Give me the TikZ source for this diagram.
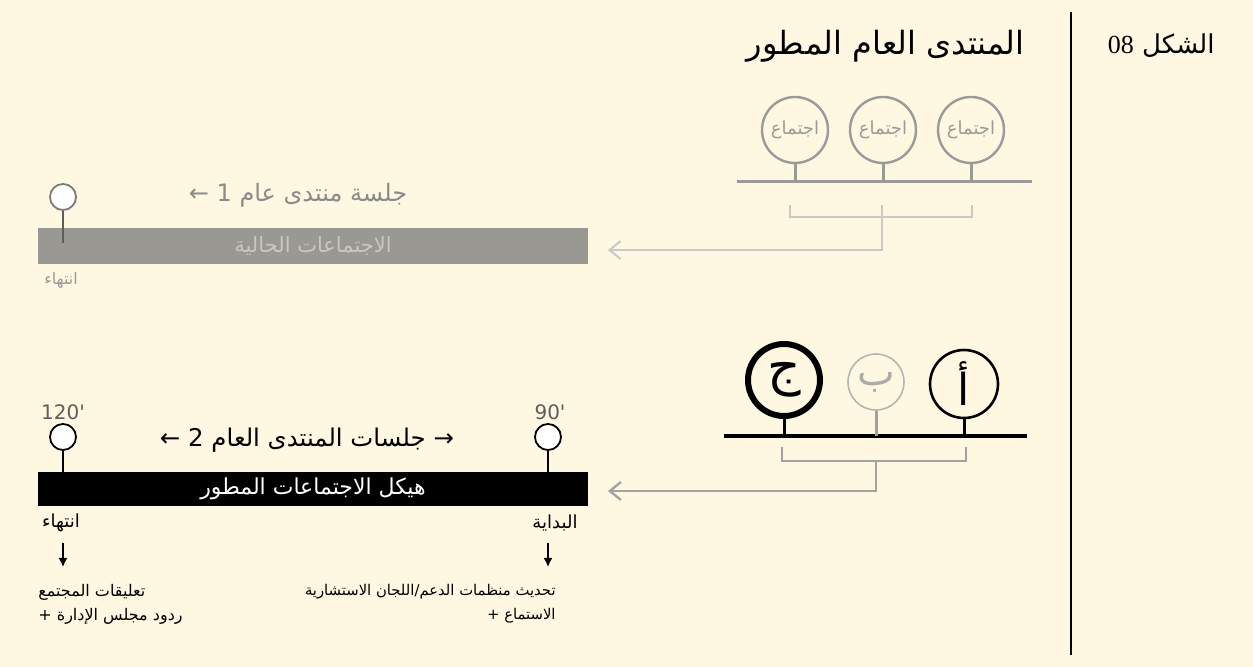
\documentclass[tikz,border=0pt]{standalone}
\usepackage{fontspec}
\setmainfont{DejaVu Sans}
\newfontfamily\arabicfont[Script=Arabic]{DejaVu Sans}
\newfontfamily\figfont{Liberation Serif}
\TeXXeTstate=1
\usetikzlibrary{arrows.meta, positioning, calc}
\definecolor{paper}{HTML}{FEF8E2}
\definecolor{bargray}{HTML}{999893}
\definecolor{barlabel}{HTML}{C9C7BF}
\definecolor{meetgray}{HTML}{9A9A98}
\definecolor{linkgray}{HTML}{CACAC4}
\definecolor{linkdark}{HTML}{A3A3A0}
\definecolor{notegray}{HTML}{5E5E5E}
\newcommand{\artext}[1]{{\arabicfont\beginR #1\endR}}

\begin{document}
\begin{tikzpicture}[x=0.5pt, y=-0.5pt,
  meet/.style={circle, draw=meetgray, line width=1.2pt, minimum size=33pt, inner sep=0pt, text=meetgray, font=\fontsize{9}{10}\selectfont},
  pinhead/.style={circle, draw, fill=white, minimum size=13pt, inner sep=0pt, line width=0.9pt},
  barb/.style={-{Straight Barb[length=5.5pt,width=9pt]}},
  downarrow/.style={-{Latex[length=4.5pt,width=4.5pt]}, line width=0.8pt}]
\fill[paper] (0,0) rectangle (1253,667);
\useasboundingbox (0,0) rectangle (1253,667);

% divider and figure number
\draw[line width=1.1pt] (1071,12) -- (1071,655);
\node[anchor=east, inner sep=0pt, font=\fontsize{13}{15}\selectfont] (fignum) at (1215,46) {{\figfont 08}~\artext{الشكل}};
\node[anchor=east, inner sep=0pt, font=\fontsize{16}{18}\selectfont] (title) at (1025,46) {\artext{المنتدى العام المطور}};

% current meetings
\node[meet] (m1) at (795,130) {\artext{اجتماع}};
\node[meet] (m2) at (883,130) {\artext{اجتماع}};
\node[meet] (m3) at (971,130) {\artext{اجتماع}};
\coordinate (topL) at (737,182);
\coordinate (topR) at (1032,182);
\draw[meetgray, line width=1.5pt] (topL) -- (topR);
\draw[meetgray, line width=1.5pt] (m1.south) -- (m1.south |- topL);
\draw[meetgray, line width=1.5pt] (m2.south) -- (m2.south |- topL);
\draw[meetgray, line width=1.5pt] (m3.south) -- (m3.south |- topL);
\coordinate (tbL) at (790,205);
\coordinate (tbR) at (972,205);
\coordinate (tbM) at (882,205);
\coordinate (curin) at (608,250);
\draw[linkgray, line width=1pt] (tbL) -- ++(0,12) -| (tbR);
\draw[linkgray, line width=1pt, barb] (tbM) |- (curin);

\node[fill=bargray, minimum width=275pt, minimum height=18pt, inner sep=0pt, text=barlabel, font=\fontsize{10.5}{12}\selectfont] (curbar) at (313,246) {\artext{الاجتماعات الحالية}};
\node[pinhead, draw=meetgray!80!black] (curend) at (63,197) {};
\draw[meetgray!60!black, line width=1pt] (curend.south) -- ++(0,32);
\node[text=meetgray, font=\fontsize{8}{9}\selectfont] (curendlbl) at (61,280) {\artext{انتهاء}};
\node[text=meetgray!90!black, font=\fontsize{12}{14}\selectfont] (session1) at (298,195) {← \artext{جلسة منتدى عام 1}};

% evolved meetings
\node[circle, draw, line width=3pt, minimum size=36pt, inner sep=0pt, font=\fontsize{26}{28}\selectfont] (c) at (784,380) {\artext{ج}};
\node[circle, draw=linkgray!90!black, line width=0.8pt, minimum size=28pt, inner sep=0pt, text=linkgray!85!black, font=\fontsize{20}{22}\selectfont] (b) at (876,382) {\artext{ب}};
\node[circle, draw, line width=1.3pt, minimum size=34pt, inner sep=0pt, font=\fontsize{22}{24}\selectfont] (a) at (964,384) {\artext{أ}};
\coordinate (lowL) at (724,436);
\coordinate (lowR) at (1027,436);
\draw[line width=1.6pt] (lowL) -- (lowR);
\draw[line width=1.5pt] (c.south) -- (c.south |- lowL);
\draw[linkgray!80!black, line width=1.5pt] (b.south) -- (b.south |- lowL);
\draw[line width=1.5pt] (a.south) -- (a.south |- lowL);
\coordinate (lbL) at (782,447);
\coordinate (lbR) at (966,447);
\coordinate (lbM) at (876,461);
\coordinate (newin) at (608,491);
\draw[linkdark, line width=1.2pt] (lbL) -- ++(0,14) -| (lbR);
\draw[linkdark, line width=1.2pt, barb] (lbM) |- (newin);

\node[fill=black, minimum width=275pt, minimum height=17pt, inner sep=0pt, text=white, font=\fontsize{11}{13}\selectfont] (newbar) at (313,489) {\artext{هيكل الاجتماعات المطور}};
\node[pinhead] (newend) at (63,437) {};
\node[pinhead] (newstart) at (548,437) {};
\draw[line width=0.9pt] (newend.south) -- (newend.south |- newbar.north);
\draw[line width=0.9pt] (newstart.south) -- (newstart.south |- newbar.north);
\node[text=notegray, font=\fontsize{10}{12}\selectfont] (t120) at (63,412) {120\textquotesingle};
\node[text=notegray, font=\fontsize{10}{12}\selectfont] (t90) at (550,412) {90\textquotesingle};
\node[font=\fontsize{12.2}{14}\selectfont] (session2) at (307,440) {← \artext{جلسات المنتدى العام 2} →};

\node[font=\fontsize{9}{10}\selectfont] (endlbl) at (61,523) {\artext{انتهاء}};
\node[font=\fontsize{9}{10}\selectfont] (startlbl) at (555,523) {\artext{البداية}};
\coordinate (endout) at (63,567);
\coordinate (startout) at (548,567);
\draw[downarrow] (63,543) -- (endout);
\draw[downarrow] (548,543) -- (startout);
\node[anchor=north west, align=left, inner sep=0pt, font=\fontsize{8}{12}\selectfont] (endnote) at (38,584) {\artext{تعليقات المجتمع}\\\artext{ردود مجلس الإدارة +}};
\node[anchor=north east, align=right, inner sep=0pt, font=\fontsize{7.4}{12}\selectfont] (startnote) at (556,584) {\artext{تحديث منظمات الدعم/اللجان الاستشارية}\\\artext{الاستماع +}};
\end{tikzpicture}
\end{document}
